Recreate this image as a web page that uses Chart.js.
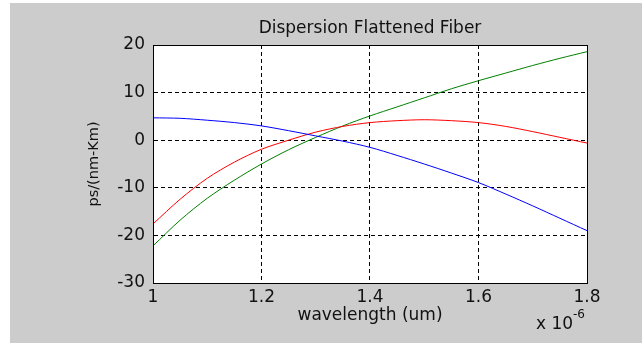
<!DOCTYPE html>
<html>
<head>
<meta charset="utf-8">
<title>Dispersion Flattened Fiber</title>
<script src="https://cdn.jsdelivr.net/npm/chart.js@4"></script>
<style>
  html, body { margin: 0; padding: 0; background: #fff; }
  #wrap { width: 642px; height: 343px; }
</style>
</head>
<body>
<div id="wrap"><canvas id="chart" width="642" height="343"></canvas></div>
<script>
// wavelength, in units of 1e-6 m
const wavelength = [1.0, 1.05, 1.1, 1.15, 1.2, 1.25, 1.3, 1.35, 1.4, 1.45, 1.5, 1.55, 1.6, 1.65, 1.7, 1.75, 1.8];
// dispersion, ps/(nm-Km)
const dispBlue  = [4.7, 4.6, 4.2, 3.7, 3.0, 2.0, 0.9, -0.2, -1.5, -3.2, -5.0, -6.9, -8.9, -11.3, -13.8, -16.4, -19.0];
const dispRed   = [-17.6, -12.4, -8.0, -4.6, -1.9, 0.0, 1.7, 2.9, 3.7, 4.1, 4.3, 4.1, 3.7, 2.9, 1.8, 0.6, -0.6];
const dispGreen = [-22.2, -16.8, -12.2, -8.4, -5.0, -2.0, 0.6, 3.0, 5.1, 7.0, 8.9, 10.8, 12.5, 14.1, 15.7, 17.2, 18.6];

const xTicks = [1, 1.2, 1.4, 1.6, 1.8];
const yTicks = [-30, -20, -10, 0, 10, 20];

const FONT = "'DejaVu Sans', sans-serif";
const TEXT = '#111';

function toPoints(ys) {
    return wavelength.map((x, i) => ({ x: x, y: ys[i] }));
}

function line(ys, color) {
    return {
        data: toPoints(ys),
        borderColor: color,
        borderWidth: 1,
        pointRadius: 0,
        fill: false,
        tension: 0.3
    };
}

// grey figure background, white axes box, solid frame and the exponent note
const frame = {
    id: 'frame',
    beforeDraw(chart) {
        const ctx = chart.ctx, a = chart.chartArea;
        ctx.save();
        ctx.fillStyle = '#fff';
        ctx.fillRect(0, 0, chart.width, chart.height);
        ctx.fillStyle = '#cccccc';
        ctx.fillRect(10, 3, chart.width - 10, chart.height - 3);
        ctx.fillStyle = '#fff';
        ctx.fillRect(a.left, a.top, a.right - a.left, a.bottom - a.top);
        ctx.restore();
    },
    afterDraw(chart) {
        const ctx = chart.ctx, a = chart.chartArea;
        ctx.save();
        ctx.setLineDash([]);
        ctx.strokeStyle = '#000';
        ctx.lineWidth = 1;
        ctx.strokeRect(Math.round(a.left) + 0.5, Math.round(a.top) + 0.5,
            Math.round(a.right - a.left), Math.round(a.bottom - a.top));
        ctx.fillStyle = TEXT;
        ctx.textBaseline = 'alphabetic';
        ctx.font = '17px ' + FONT;
        ctx.fillText('x 10', 536, 329);
        ctx.font = '12px ' + FONT;
        ctx.fillText('-6', 573, 318);
        ctx.restore();
    }
};

new Chart(document.getElementById('chart'), {
    type: 'line',
    data: {
        datasets: [
            line(dispBlue, '#0000ff'),
            line(dispRed, '#ff0000'),
            line(dispGreen, '#008000')
        ]
    },
    plugins: [frame],
    options: {
        responsive: false,
        animation: false,
        devicePixelRatio: 1,
        layout: { padding: { left: 10, right: 55, top: 0, bottom: 0 } },
        plugins: {
            legend: { display: false },
            tooltip: { enabled: false },
            title: {
                display: true,
                text: 'Dispersion Flattened Fiber',
                fullSize: false,
                color: TEXT,
                font: { family: FONT, size: 17, weight: 'normal' },
                padding: { top: 18, bottom: 6.6 }
            }
        },
        scales: {
            x: {
                type: 'linear',
                min: 1,
                max: 1.8,
                afterBuildTicks: s => { s.ticks = xTicks.map(v => ({ value: v })); },
                afterFit: s => { s.height = 60; },
                ticks: {
                    color: TEXT,
                    font: { family: FONT, size: 17 },
                    padding: 4,
                    maxRotation: 0,
                    autoSkip: false,
                    callback: v => String(+v.toFixed(1))
                },
                grid: { color: '#000', lineWidth: 1, drawTicks: false },
                border: { display: true, color: '#000', dash: [4, 3] },
                title: {
                    display: true,
                    text: 'wavelength (um)',
                    color: TEXT,
                    font: { family: FONT, size: 17 },
                    padding: { top: 0, bottom: 17 }
                }
            },
            y: {
                min: -30,
                max: 20,
                afterBuildTicks: s => { s.ticks = yTicks.map(v => ({ value: v })); },
                afterFit: s => { s.width = 143; },
                ticks: {
                    color: TEXT,
                    font: { family: FONT, size: 17 },
                    padding: 8
                },
                grid: { color: '#000', lineWidth: 1, drawTicks: false },
                border: { display: true, color: '#000', dash: [4, 3] },
                title: {
                    display: true,
                    text: 'ps/(nm-Km)',
                    color: TEXT,
                    font: { family: FONT, size: 14.5 },
                    padding: { top: 76, bottom: 0 }
                }
            }
        }
    }
});
</script>
</body>
</html>
